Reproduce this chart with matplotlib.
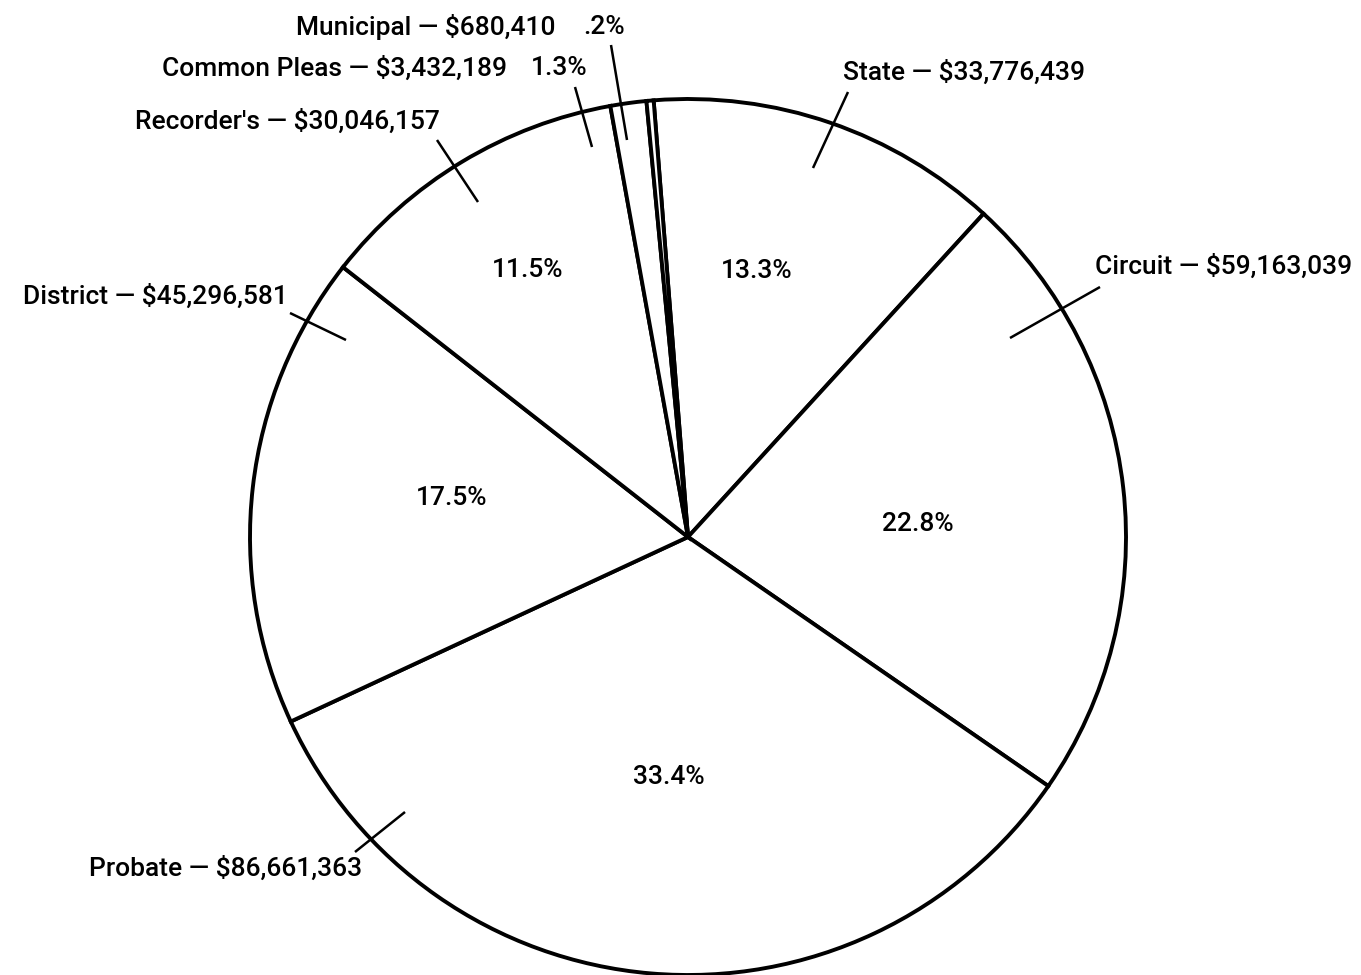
import matplotlib
matplotlib.use("Agg")
import matplotlib.pyplot as plt

courts = ["State", "Circuit", "Probate", "District", "Recorder's", "Common Pleas", "Municipal"]
amounts = [33776439, 59163039, 86661363, 45296581, 30046157, 3432189, 680410]
amount_labels = ["$33,776,439", "$59,163,039", "$86,661,363", "$45,296,581",
                 "$30,046,157", "$3,432,189", "$680,410"]
pct_labels = ["13.3%", "22.8%", "33.4%", "17.5%", "11.5%", "1.3%", ".2%"]

W, H = 1361, 975
fig = plt.figure(figsize=(W / 100, H / 100), dpi=100)
ax = fig.add_axes([0, 0, 1, 1])

def Y(y):
    return H - y

cx, cy, R = 688, 537, 438
ax.pie(amounts, center=(cx, Y(cy)), radius=R, startangle=94.5, counterclock=False,
       colors=["white"] * len(amounts),
       wedgeprops=dict(edgecolor="black", linewidth=2.8))
ax.set_xlim(0, W)
ax.set_ylim(0, H)
ax.set_aspect("equal")
ax.axis("off")

FONT = ["Roboto", "DejaVu Sans"]
fs = 19

# name labels: (text anchor x, y, ha, leader start, leader end)
name_layout = {
    "State": (843, 72, "left", (848, 92), (813, 168)),
    "Circuit": (1095, 266, "left", (1100, 287), (1010, 338)),
    "Probate": (89, 868, "left", (355, 852), (405, 812)),
    "District": (23, 296, "left", (290, 313), (346, 340)),
    "Recorder's": (135, 121, "left", (437, 140), (478, 202)),
    "Common Pleas": (162, 68, "left", (575, 87), (592, 147)),
    "Municipal": (296, 27, "left", (611, 45), (627, 140)),
}
for name, amt in zip(courts, amount_labels):
    x, y, ha, p0, p1 = name_layout[name]
    ax.text(x, Y(y), f"{name} \u2014 {amt}", ha=ha, va="center",
            fontsize=fs, family=FONT, fontweight="medium", color="black")
    ax.plot([p0[0], p1[0]], [Y(p0[1]), Y(p1[1])], color="black", lw=1.8,
            solid_capstyle="butt")

# percentage labels
pct_layout = {
    "State": (757, 271), "Circuit": (918, 524), "Probate": (669, 777),
    "District": (452, 498), "Recorder's": (528, 270),
    "Common Pleas": (559, 68), "Municipal": (604, 27),
}
for name, p in zip(courts, pct_labels):
    x, y = pct_layout[name]
    ax.text(x, Y(y), p, ha="center", va="center", fontsize=fs,
            family=FONT, fontweight="medium", color="black")

fig.savefig("out.png", dpi=100, facecolor="white")
